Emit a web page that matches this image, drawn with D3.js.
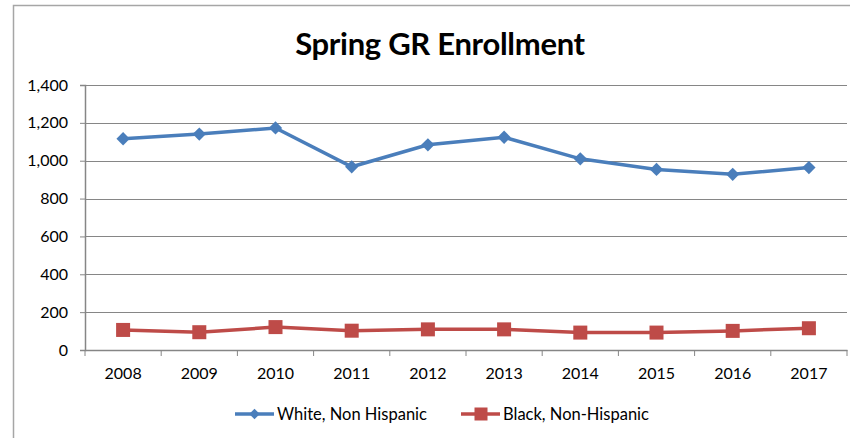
<!DOCTYPE html>
<html>
<head>
<meta charset="utf-8">
<script src="https://cdnjs.cloudflare.com/ajax/libs/d3/7.8.5/d3.min.js"></script>
<style>
  body { margin: 0; background: #fff; }
  text { font-family: Lato, "Open Sans", sans-serif; fill: #000; }
</style>
</head>
<body>
<svg class="chart" width="850" height="438"></svg>
<script>
// data
var years = ["2008", "2009", "2010", "2011", "2012", "2013", "2014", "2015", "2016", "2017"];
var white = [1116, 1141, 1173, 968, 1084, 1124, 1010, 954, 928, 964];
var black = [106, 94, 121, 102, 109, 109, 92, 92, 101, 115];
var yTicks = [0, 200, 400, 600, 800, 1000, 1200, 1400];
var seriesNames = ["White, Non Hispanic", "Black, Non-Hispanic"];

var margin = {top: 85, left: 85},
  width = 762,
  height = 265;

var svg = d3.select(".chart");

// outer border of the chart area
svg.append("path")
  .attr("d", "M13.5,440 V5.5 H852")
  .attr("fill", "none")
  .attr("stroke", "#a6a6a6")
  .attr("stroke-width", 1.5);

// title
svg.append("text")
  .attr("x", 440)
  .attr("y", 55)
  .style("text-anchor", "middle")
  .style("font-size", "31px")
  .style("font-weight", "bold")
  .style("letter-spacing", "-0.3px")
  .text("Spring GR Enrollment");

var chart = svg.append("g")
  .attr("transform", "translate(" + margin.left + "," + margin.top + ")");

// scales
var x = d3.scaleBand().domain(years).range([0, width]);
var y = d3.scaleLinear().domain([0, 1400]).range([height, 0]);

// gridlines
chart.selectAll(".grid")
  .data(yTicks.slice(1))
  .enter().append("line")
  .attr("x1", 0)
  .attr("x2", width)
  .attr("y1", function(d) { return Math.round(y(d)) + 0.5; })
  .attr("y2", function(d) { return Math.round(y(d)) + 0.5; })
  .attr("stroke", "#868686")
  .attr("stroke-width", 1.2);

// y-axis
var yAxis = d3.axisLeft(y)
  .tickValues(yTicks)
  .tickSize(5)
  .tickPadding(12)
  .tickFormat(d3.format(","));
chart.append("g")
  .attr("class", "y axis")
  .call(yAxis);

// x-axis with ticks between categories
var xAxis = d3.axisBottom(x).tickSize(0).tickPadding(18);
var xg = chart.append("g")
  .attr("class", "x axis")
  .attr("transform", "translate(0," + height + ")")
  .call(xAxis);
xg.selectAll(".sep")
  .data(d3.range(years.length + 1))
  .enter().append("line")
  .attr("x1", function(i) { return i * x.step(); })
  .attr("x2", function(i) { return i * x.step(); })
  .attr("y1", 0)
  .attr("y2", 6)
  .attr("stroke", "#868686");

svg.selectAll(".axis path, .axis line").attr("stroke", "#868686");
svg.selectAll(".axis .domain").attr("stroke-width", 1.5);
svg.selectAll(".axis text")
  .style("font-family", "Lato, 'Open Sans', sans-serif")
  .style("font-size", "16px")
  .attr("fill", "#000");

var cx = function(i) { return x(years[i]) + x.bandwidth() / 2; };
var line = d3.line()
  .x(function(d, i) { return cx(i); })
  .y(function(d) { return y(d); });

var colors = ["#4a7ebb", "#be4b48"];

// lines
[white, black].forEach(function(s, k) {
  chart.append("path")
    .datum(s)
    .attr("d", line)
    .attr("fill", "none")
    .attr("stroke", colors[k])
    .attr("stroke-width", 3.5);
});

// markers
chart.selectAll(".diamond")
  .data(white)
  .enter().append("path")
  .attr("d", d3.symbol().type(d3.symbolSquare).size(88))
  .attr("transform", function(d, i) { return "translate(" + cx(i) + "," + y(d) + ") rotate(45)"; })
  .attr("fill", colors[0]);

chart.selectAll(".square")
  .data(black)
  .enter().append("rect")
  .attr("x", function(d, i) { return cx(i) - 7; })
  .attr("y", function(d) { return y(d) - 7; })
  .attr("width", 14)
  .attr("height", 14)
  .attr("fill", colors[1]);

// legend
var legend = svg.append("g").attr("transform", "translate(0,414)");
var lx = [235, 461];
seriesNames.forEach(function(name, k) {
  var g = legend.append("g").attr("transform", "translate(" + lx[k] + ",0)");
  g.append("line")
    .attr("x1", 0).attr("x2", 39)
    .attr("stroke", colors[k])
    .attr("stroke-width", 3.5);
  if (k === 0) {
    g.append("path")
      .attr("d", d3.symbol().type(d3.symbolSquare).size(55))
      .attr("transform", "translate(19.5,0) rotate(45)")
      .attr("fill", colors[k]);
  } else {
    g.append("rect")
      .attr("x", 13.5).attr("y", -6.5)
      .attr("width", 13).attr("height", 13)
      .attr("fill", colors[k]);
  }
  g.append("text")
    .attr("x", 42)
    .attr("dy", "0.35em")
    .style("font-size", "16.5px")
    .text(name);
});
</script>
</body>
</html>
